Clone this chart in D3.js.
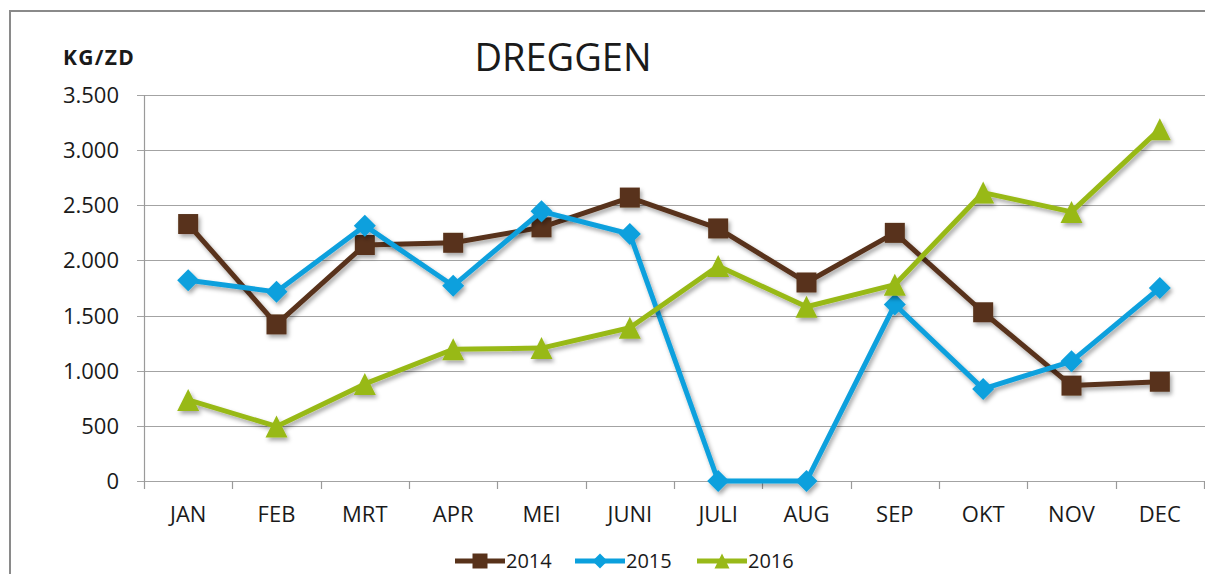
<!DOCTYPE html>
<html>
<head>
<meta charset="utf-8">
<script src="https://cdn.jsdelivr.net/npm/d3@7"></script>
<style>
  html, body { margin: 0; padding: 0; background: #fff; }
  svg { display: block; }
  text { font-family: "Open Sans", "Noto Sans", sans-serif; fill: #1a1a1a; }
</style>
</head>
<body>
<svg id="chart" width="1205" height="574"></svg>
<script>
// Monthly catch, kg per day at sea
const months = ["JAN", "FEB", "MRT", "APR", "MEI", "JUNI", "JULI", "AUG", "SEP", "OKT", "NOV", "DEC"];
const values2014 = [2330, 1420, 2140, 2160, 2300, 2570, 2290, 1800, 2250, 1530, 865, 900];
const values2015 = [1820, 1715, 2315, 1770, 2445, 2240, 0, 0, 1600, 835, 1085, 1750];
const values2016 = [735, 495, 880, 1195, 1205, 1390, 1950, 1580, 1780, 2615, 2440, 3190];
const seriesNames = ["2014", "2015", "2016"];
const yTicks = [0, 500, 1000, 1500, 2000, 2500, 3000, 3500];

const series = [
  { name: seriesNames[0], values: values2014, color: "#58321a", marker: "square" },
  { name: seriesNames[1], values: values2015, color: "#0ba0dd", marker: "diamond" },
  { name: seriesNames[2], values: values2016, color: "#98b918", marker: "triangle" }
];

const svg = d3.select("#chart");

// soft shadow under the lines and markers
const defs = svg.append("defs");
const shadow = defs.append("filter").attr("id", "shadow")
  .attr("x", "-20%").attr("y", "-20%").attr("width", "140%").attr("height", "140%");
shadow.append("feDropShadow")
  .attr("dx", 2).attr("dy", 3).attr("stdDeviation", 2)
  .attr("flood-color", "#000").attr("flood-opacity", 0.35);

// outer frame (top and left edges visible)
svg.append("path")
  .attr("d", "M10,580 L10,11 L1210,11")
  .attr("fill", "none").attr("stroke", "#8a8a8a").attr("stroke-width", 2);

const x = d3.scaleBand().domain(months).range([144, 1204]).padding(0);
const y = d3.scaleLinear().domain([0, 3500]).range([481, 95]);

const nl = d3.formatLocale({ decimal: ",", thousands: ".", grouping: [3], currency: ["€", ""] });
const fmt = nl.format(",d");

// horizontal gridlines
svg.append("g").selectAll("line").data(yTicks).join("line")
  .attr("x1", 137).attr("x2", 1205)
  .attr("y1", d => Math.round(y(d)) + 0.5).attr("y2", d => Math.round(y(d)) + 0.5)
  .attr("stroke", "#a3a3a3").attr("stroke-width", 1.2);

// value axis
svg.append("line")
  .attr("x1", 144.5).attr("x2", 144.5).attr("y1", y(3500)).attr("y2", y(0) + 8)
  .attr("stroke", "#9a9a9a").attr("stroke-width", 1.2);
svg.append("g").selectAll("text").data(yTicks).join("text")
  .attr("x", 119).attr("y", d => y(d) + 8)
  .attr("text-anchor", "end").attr("font-size", 22)
  .text(d => fmt(d));

// category axis ticks at band edges
const edges = months.map(m => x(m)).concat([x.range()[1]]);
svg.append("g").selectAll("line").data(edges.slice(1)).join("line")
  .attr("x1", d => Math.round(d) + 0.5).attr("x2", d => Math.round(d) + 0.5)
  .attr("y1", y(0)).attr("y2", y(0) + 8)
  .attr("stroke", "#9a9a9a").attr("stroke-width", 1.2);
svg.append("g").selectAll("text").data(months).join("text")
  .attr("x", d => x(d) + x.bandwidth() / 2).attr("y", 522)
  .attr("text-anchor", "middle").attr("font-size", 22)
  .text(d => d);

// titles
svg.append("text").attr("x", 63).attr("y", 65)
  .attr("font-size", 21).attr("font-weight", "bold").attr("letter-spacing", 1.3)
  .text("KG/ZD");
svg.append("text").attr("x", 563).attr("y", 71)
  .attr("text-anchor", "middle").attr("font-size", 38)
  .text("DREGGEN");

function markerPath(type, s) {
  const h = s / 2;
  if (type === "square") return `M${-h},${-h}H${h}V${h}H${-h}Z`;
  if (type === "diamond") return `M0,${-h}L${h},0L0,${h}L${-h},0Z`;
  return `M0,${-h}L${h},${h}L${-h},${h}Z`;
}
const markerSize = { square: 20, diamond: 22, triangle: 22 };

const line = d3.line()
  .x((d, i) => x(months[i]) + x.bandwidth() / 2)
  .y(d => y(d));

series.forEach(s => {
  const g = svg.append("g").attr("filter", "url(#shadow)");
  g.append("path").datum(s.values)
    .attr("d", line)
    .attr("fill", "none").attr("stroke", s.color)
    .attr("stroke-width", 5).attr("stroke-linejoin", "round");
  g.selectAll("path.m").data(s.values).join("path").attr("class", "m")
    .attr("transform", (d, i) => `translate(${x(months[i]) + x.bandwidth() / 2},${y(d)})`)
    .attr("d", markerPath(s.marker, markerSize[s.marker]))
    .attr("fill", s.color);
});

// legend
const legendX = [455, 575, 697];
const legend = svg.append("g");
series.forEach((s, i) => {
  const g = legend.append("g").attr("transform", `translate(${legendX[i]},561)`);
  g.append("line").attr("x1", 0).attr("x2", 50).attr("y1", 0).attr("y2", 0)
    .attr("stroke", s.color).attr("stroke-width", 5);
  g.append("path").attr("transform", "translate(25,0)")
    .attr("d", markerPath(s.marker, 15)).attr("fill", s.color);
  g.append("text").attr("x", 51).attr("y", 7).attr("font-size", 20).text(s.name);
});
</script>
</body>
</html>
